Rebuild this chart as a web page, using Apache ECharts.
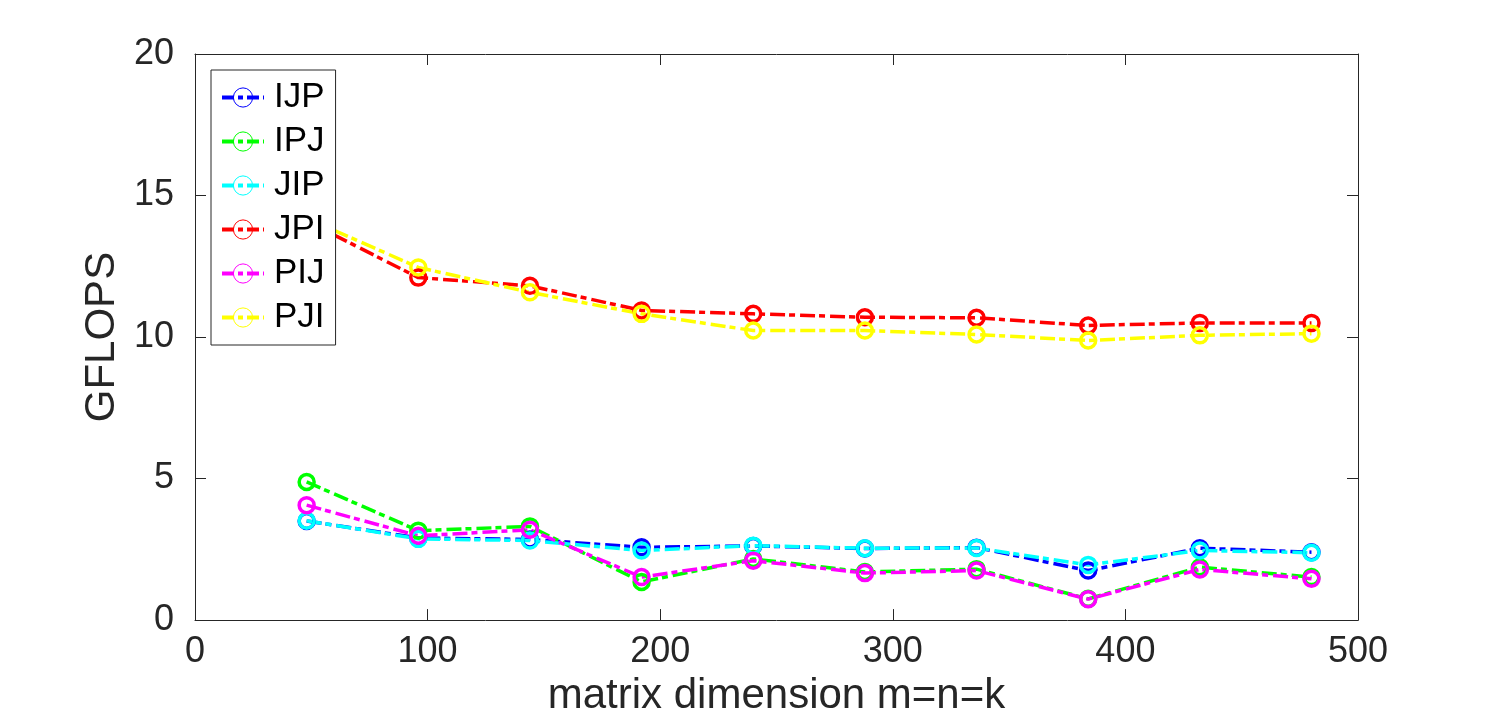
<!DOCTYPE html>
<html>
<head>
<meta charset="utf-8">
<script src="https://cdn.jsdelivr.net/npm/echarts@6/dist/echarts.min.js"></script>
<style>
html,body{margin:0;padding:0;background:#fff;}
#c{width:1500px;height:722px;}
</style>
</head>
<body>
<div id="c"></div>
<script>
const sizes = [48, 96, 144, 192, 240, 288, 336, 384, 432, 480];
const IJP = [3.5, 2.9, 2.85, 2.57, 2.62, 2.53, 2.56, 1.75, 2.54, 2.4];
const IPJ = [4.88, 3.16, 3.31, 1.35, 2.16, 1.7, 1.8, 0.75, 1.87, 1.52];
const JIP = [3.51, 2.87, 2.81, 2.46, 2.63, 2.54, 2.55, 1.95, 2.46, 2.38];
const JPI = [14.1, 12.1, 11.81, 10.94, 10.82, 10.7, 10.68, 10.41, 10.5, 10.5];
const PIJ = [4.06, 2.98, 3.19, 1.52, 2.1, 1.66, 1.75, 0.74, 1.79, 1.46];
const PJI = [14.2, 12.46, 11.58, 10.82, 10.23, 10.23, 10.09, 9.88, 10.06, 10.12];
const seriesNames = ['IJP', 'IPJ', 'JIP', 'JPI', 'PIJ', 'PJI'];
const seriesData = [IJP, IPJ, JIP, JPI, PIJ, PJI];
const seriesColors = ['#0000ff', '#00ff00', '#00ffff', '#ff0000', '#ff00ff', '#ffff00'];
const xTicks = [0, 100, 200, 300, 400, 500];
const yTicks = [0, 5, 10, 15, 20];

const FONT = 'Liberation Sans, Arial, Helvetica, sans-serif';
const AX = '#262626';

const chart = echarts.init(document.getElementById('c'));
const axisCommon = {
  axisLine: {show: true, onZero: false, lineStyle: {color: AX, width: 1}},
  axisTick: {show: true, inside: true, length: 11, lineStyle: {color: AX, width: 1}},
  splitLine: {show: false}
};
chart.setOption({
  backgroundColor: '#fff',
  animation: false,
  grid: {left: 195, top: 54, right: 142, bottom: 99, containLabel: false},
  xAxis: [
    Object.assign({
      type: 'value', min: xTicks[0], max: xTicks[xTicks.length - 1], interval: 100, position: 'bottom',
      name: 'matrix dimension m=n=k', nameLocation: 'middle', nameGap: 45,
      nameTextStyle: {fontFamily: FONT, fontSize: 42, color: AX},
      axisLabel: {fontFamily: FONT, fontSize: 36, color: AX, margin: 14}
    }, axisCommon),
    Object.assign({
      type: 'value', min: xTicks[0], max: xTicks[xTicks.length - 1], interval: 100, position: 'top',
      axisLabel: {show: false}
    }, axisCommon)
  ],
  yAxis: [
    Object.assign({
      type: 'value', min: yTicks[0], max: yTicks[yTicks.length - 1], interval: 5, position: 'left',
      name: 'GFLOPS', nameLocation: 'middle', nameGap: 54, nameRotate: 90,
      nameTextStyle: {fontFamily: FONT, fontSize: 42, color: AX},
      axisLabel: {fontFamily: FONT, fontSize: 36, color: AX, margin: 21}
    }, axisCommon),
    Object.assign({
      type: 'value', min: yTicks[0], max: yTicks[yTicks.length - 1], interval: 5, position: 'right',
      axisLabel: {show: false}
    }, axisCommon)
  ],
  legend: {
    orient: 'vertical', left: 211, top: 70,
    padding: [10, 11, 10, 9],
    itemGap: 9, itemWidth: 42, itemHeight: 24,
    backgroundColor: '#fff', borderColor: AX, borderWidth: 1,
    textStyle: {fontFamily: FONT, fontSize: 35, color: '#000', padding: [0, 0, 0, 5], lineHeight: 34},
    itemStyle: {borderWidth: 1},
    lineStyle: {width: 4, type: [12, 4, 5, 4]},
    data: seriesNames
  },
  series: seriesNames.map((n, i) => ({
    name: n, type: 'line', xAxisIndex: 0, yAxisIndex: 0,
    data: sizes.map((x, j) => [x, seriesData[i][j]]),
    symbol: 'circle', symbolSize: 15,
    itemStyle: {color: 'rgba(0,0,0,0)', borderColor: seriesColors[i], borderWidth: 3.5},
    lineStyle: {color: seriesColors[i], width: 3.5, type: [15, 4, 6, 5]},
    emphasis: {disabled: true}
  }))
});
</script>
</body>
</html>
